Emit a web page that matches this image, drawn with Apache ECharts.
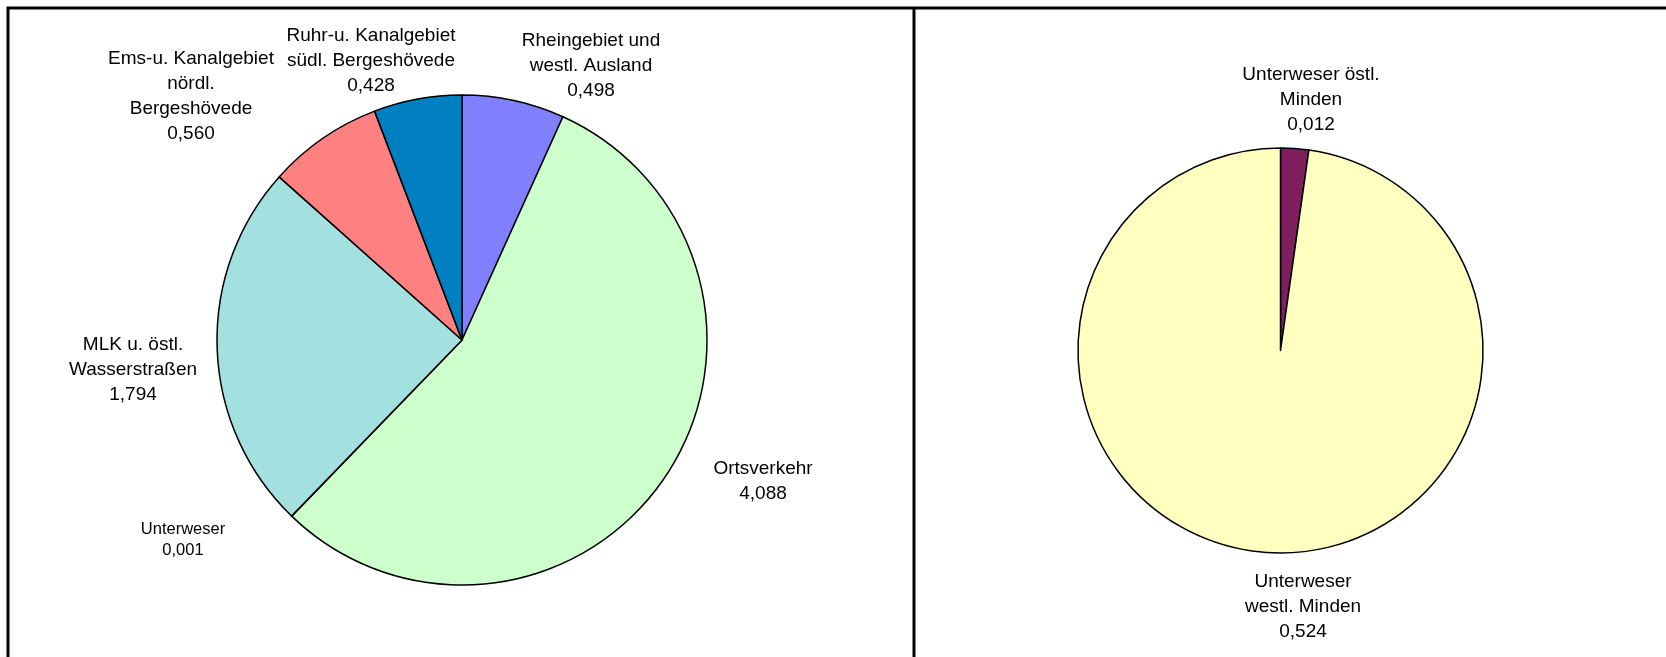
<!DOCTYPE html>
<html>
<head>
<meta charset="utf-8">
<script src="https://cdn.jsdelivr.net/npm/echarts@6/dist/echarts.min.js"></script>
<style>
  html, body { margin: 0; padding: 0; background: #fff; }
  #chart { width: 1666px; height: 657px; }
</style>
</head>
<body>
<div id="chart"></div>
<script>
// linkes Diagramm (im Uhrzeigersinn ab 12 Uhr)
const leftNames = [
  'Rheingebiet und\nwestl. Ausland',
  'Ortsverkehr',
  'Unterweser',
  'MLK u. östl.\nWasserstraßen',
  'Ems-u. Kanalgebiet\nnördl.\nBergeshövede',
  'Ruhr-u. Kanalgebiet\nsüdl. Bergeshövede'
]
const leftValues = [0.498, 4.088, 0.001, 1.794, 0.560, 0.428]

// rechtes Diagramm
const rightNames = ['Unterweser östl.\nMinden', 'Unterweser\nwestl. Minden']
const rightValues = [0.012, 0.524]

// Farben
const leftColors = ['#8080ff', '#ccffcc', '#ffffc0', '#a3e0e0', '#ff8080', '#0080c0']
const rightColors = ['#7f1f5f', '#ffffc0']

// Beschriftungsmitten (Pixel)
const leftLabelPos = [[591, 66], [763, 481], [183, 540], [133, 370], [191, 96], [371, 61]]
const rightLabelPos = [[1311, 100], [1303, 607]]

const fmt = v => v.toFixed(3).replace('.', ',')

function makeData (names, values, colors) {
  return names.map((n, i) => ({
    name: n,
    value: values[i],
    itemStyle: { color: colors[i] }
  }))
}

function pieSeries (data, center, radius, labelPos) {
  return {
    type: 'pie',
    center: center,
    radius: radius,
    startAngle: 90,
    clockwise: true,
    avoidLabelOverlap: false,
    silent: true,
    animation: false,
    data: data,
    itemStyle: { borderColor: '#000', borderWidth: 1.5 },
    label: {
      show: true,
      position: 'outside',
      color: '#000',
      fontFamily: 'Liberation Sans, Arial, sans-serif',
      fontSize: 19,
      lineHeight: 25,
      align: 'center',
      formatter: p => p.name + '\n' + fmt(p.value)
    },
    labelLine: { show: false },
    labelLayout: p => ({
      x: labelPos[p.dataIndex][0],
      y: labelPos[p.dataIndex][1],
      align: 'center',
      verticalAlign: 'middle'
    }),
    emphasis: { disabled: true }
  }
}

const chart = echarts.init(document.getElementById('chart'))

const leftData = makeData(leftNames, leftValues, leftColors)
// kleine Beschriftung fuer Unterweser
leftData[2].label = { fontSize: 16.5, lineHeight: 21.5 }

const option = {
  backgroundColor: '#fff',
  graphic: [
    {
      type: 'rect',
      shape: { x: 8, y: 8, width: 1720, height: 720 },
      style: { fill: 'none', stroke: '#000', lineWidth: 3 },
      silent: true
    },
    {
      type: 'line',
      shape: { x1: 914, y1: 8, x2: 914, y2: 700 },
      style: { stroke: '#000', lineWidth: 3 },
      silent: true
    }
  ],
  series: [
    pieSeries(leftData, [462, 340], 245, leftLabelPos),
    pieSeries(makeData(rightNames, rightValues, rightColors), [1280.5, 350.5], 202.5, rightLabelPos)
  ]
}

chart.setOption(option)
</script>
</body>
</html>
